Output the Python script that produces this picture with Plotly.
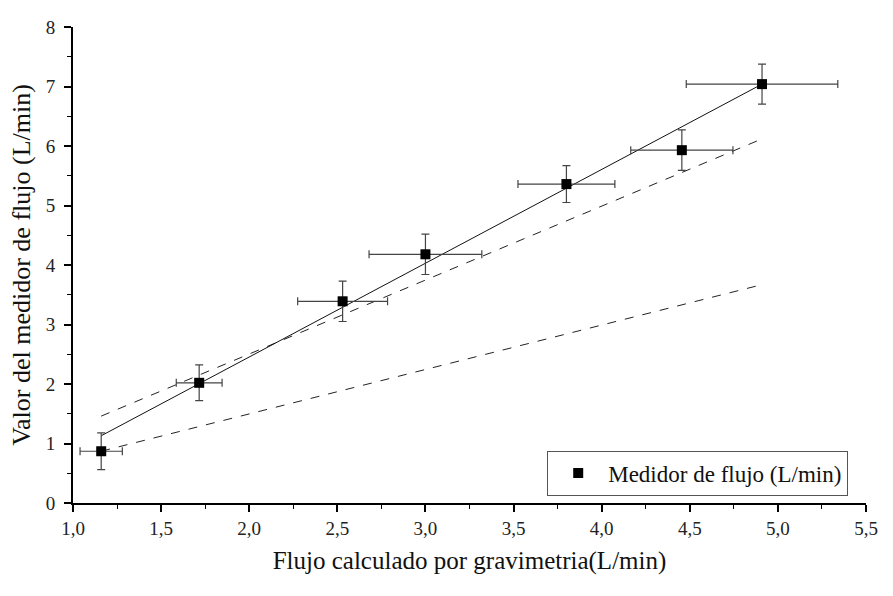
import plotly.graph_objects as go

# Measured points: gravimetric flow vs. flow meter reading (L/min)
flujo_grav = [1.16, 1.716, 2.53, 3.00, 3.80, 4.455, 4.91]
medidor = [0.87, 2.02, 3.39, 4.18, 5.36, 5.93, 7.04]
err_x = [0.12, 0.13, 0.255, 0.32, 0.275, 0.29, 0.43]
err_y = [0.31, 0.30, 0.34, 0.34, 0.31, 0.34, 0.335]

# Linear fit through the data
ajuste_x = [1.16, 4.91]
ajuste_y = [1.13, 7.04]

# Reference lines (dashed)
ref1_x = [1.16, 4.91]
ref1_y = [1.46, 6.12]
ref2_x = [1.16, 4.91]
ref2_y = [0.87, 3.67]

serif = "Liberation Serif"

fig = go.Figure()

fig.add_trace(go.Scatter(x=ref2_x, y=ref2_y, mode="lines",
                         line=dict(color="#222", width=1, dash="dash"),
                         showlegend=False, hoverinfo="skip"))
fig.add_trace(go.Scatter(x=ref1_x, y=ref1_y, mode="lines",
                         line=dict(color="#222", width=1, dash="dash"),
                         showlegend=False, hoverinfo="skip"))
fig.add_trace(go.Scatter(x=ajuste_x, y=ajuste_y, mode="lines",
                         line=dict(color="#111", width=1),
                         showlegend=False, hoverinfo="skip"))

fig.add_trace(go.Scatter(
    x=flujo_grav, y=medidor, mode="markers",
    name="Medidor de flujo (L/min)",
    marker=dict(symbol="square", size=10, color="black"),
    error_x=dict(type="data", array=err_x, visible=True,
                 color="#444", thickness=1.2, width=4),
    error_y=dict(type="data", array=err_y, visible=True,
                 color="#444", thickness=1.2, width=4),
))

axis_common = dict(
    showline=True, linecolor="black", linewidth=2,
    ticks="outside", ticklen=7, tickwidth=1.5, tickcolor="black",
    showgrid=False, zeroline=False, mirror=False,
    tickfont=dict(family=serif, size=19, color="#222"),
)

fig.update_layout(
    width=893, height=596,
    margin=dict(l=73, r=27, t=27, b=93),
    paper_bgcolor="white", plot_bgcolor="white",
    separators=",.",
    font=dict(family=serif, color="#111"),
    xaxis=dict(
        range=[1.0, 5.5], dtick=0.5, tick0=1.0, tickformat=".1f",
        minor=dict(ticks="outside", ticklen=4, tickwidth=1.2,
                   tickcolor="black", dtick=0.25),
        title=dict(text="Flujo calculado por gravimetria(L/min)",
                   font=dict(family=serif, size=25), standoff=14),
        **axis_common,
    ),
    yaxis=dict(
        range=[0, 8], dtick=1, tick0=0,
        minor=dict(ticks="outside", ticklen=4, tickwidth=1.2,
                   tickcolor="black", dtick=0.5),
        title=dict(text="Valor del medidor de flujo (L/min)",
                   font=dict(family=serif, size=26), standoff=8),
        ticklabelstandoff=5,
        **axis_common,
    ),
    legend=dict(
        x=0.598, y=0.11, xanchor="left", yanchor="top",
        bgcolor="white", bordercolor="#555", borderwidth=1,
        font=dict(family=serif, size=23, color="#111"),
        itemwidth=50,
    ),
)

fig.write_html("out.html")
